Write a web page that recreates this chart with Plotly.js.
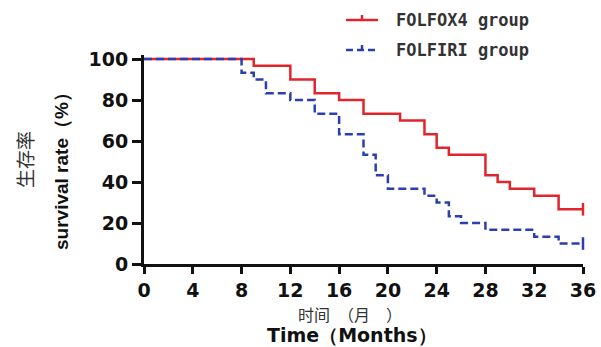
<!DOCTYPE html>
<html>
<head>
<meta charset="utf-8">
<script src="https://cdn.plot.ly/plotly-3.0.1.min.js"></script>
<style>html,body{margin:0;padding:0;background:#fff;}#chart{width:601px;height:347px;}</style>
</head>
<body>
<div id="chart"></div>
<script>
// Kaplan-Meier step data
const monthsFolfox = [0, 9, 12, 14, 16, 18, 21, 23, 24, 25, 28, 29, 30, 32, 34, 36];
const survFolfox   = [100, 96.7, 90, 83.3, 80, 73.3, 70, 63.3, 56.7, 53.3, 43.3, 40, 36.7, 33.3, 26.7, 26.7];
const monthsFolfiri = [0, 8, 9, 10, 12, 14, 16, 18, 19, 20, 23, 24, 25, 26, 28, 32, 34, 36];
const survFolfiri   = [100, 93.3, 90, 83.3, 80, 73.3, 63.3, 53.3, 43.3, 36.7, 33.3, 30, 23.3, 20, 16.7, 13.3, 10, 10];
// censored observations (end of follow-up)
const censorMonthsFolfox = [36];
const censorSurvFolfox = [26.7];
const censorMonthsFolfiri = [36];
const censorSurvFolfiri = [10];
const seriesNames = ['FOLFOX4 group', 'FOLFIRI group'];
const xTicks = [0, 4, 8, 12, 16, 20, 24, 28, 32, 36];
const yTicks = [0, 20, 40, 60, 80, 100];

const red = '#e0262c';
const blue = '#2b3fb3';
const blueDash = '8px,4px';

const traces = [
  {x: monthsFolfox, y: survFolfox, mode: 'lines', line: {shape: 'hv', color: red, width: 2.5},
   name: seriesNames[0], showlegend: false},
  {x: monthsFolfiri, y: survFolfiri, mode: 'lines', line: {shape: 'hv', color: blue, width: 2.5, dash: blueDash},
   name: seriesNames[1], showlegend: false},
  {x: censorMonthsFolfox, y: censorSurvFolfox, mode: 'markers', showlegend: false, cliponaxis: false,
   marker: {symbol: 'line-ns', size: 9, line: {color: red, width: 2.5}}},
  {x: censorMonthsFolfiri, y: censorSurvFolfiri, mode: 'markers', showlegend: false, cliponaxis: false,
   marker: {symbol: 'line-ns', size: 9, line: {color: blue, width: 2.5}}}
];

// geometry helpers (pixel -> paper) for the plot box
const W = 601, H = 347, ML = 144, MR = 18, MT = 55, MB = 83;
const PW = W - ML - MR, PH = H - MT - MB;
const px = v => (v - ML) / PW;
const py = v => (H - MB - v) / PH;

const tickFont = {family: 'DejaVu Sans, sans-serif', size: 19, color: '#111', weight: 'bold'};

// hand-made legend (Plotly's own legend would push the margins)
const legendRows = [
  {name: seriesNames[0], color: red, dash: 'solid', y: 20},
  {name: seriesNames[1], color: blue, dash: 'dash', y: 50}
];
const shapes = [];
const legendAnn = [];
legendRows.forEach(r => {
  shapes.push({type: 'line', xref: 'paper', yref: 'paper', x0: px(346), x1: px(378), y0: py(r.y), y1: py(r.y),
               line: {color: r.color, width: 2.5, dash: r.dash === 'dash' ? '7px,4px' : 'solid'}});
  shapes.push({type: 'line', xref: 'paper', yref: 'paper', x0: px(362), x1: px(362), y0: py(r.y), y1: py(r.y - 5),
               line: {color: r.color, width: 2.5}});
  legendAnn.push({xref: 'paper', yref: 'paper', x: px(394), y: py(r.y), xanchor: 'left', yanchor: 'middle',
                  text: '<b>' + r.name + '</b>', showarrow: false,
                  font: {family: 'DejaVu Sans Mono, monospace', size: 17, color: '#333'}});
});

const layout = {
  width: W, height: H,
  margin: {l: ML, r: MR, t: MT, b: MB, pad: 0},
  paper_bgcolor: '#fff', plot_bgcolor: '#fff',
  showlegend: false,
  xaxis: {
    range: [0, 36], tickvals: xTicks, ticktext: xTicks.map(String),
    showline: true, linecolor: '#111', linewidth: 3, mirror: false,
    ticks: 'outside', ticklen: 7, tickwidth: 3, tickcolor: '#111',
    showgrid: false, zeroline: false, tickfont: tickFont, tickangle: 0,
    title: {text: ''}
  },
  yaxis: {
    range: [0, 102], tickvals: yTicks, ticktext: yTicks.map(String),
    showline: true, linecolor: '#111', linewidth: 3,
    ticks: 'outside', ticklen: 9, tickwidth: 3, tickcolor: '#111',
    showgrid: false, zeroline: false, tickfont: tickFont,
    title: {text: ''}
  },
  shapes: shapes,
  annotations: legendAnn.concat([
    {xref: 'paper', yref: 'paper', x: px(24), y: py(160), xanchor: 'center', yanchor: 'middle',
     text: '生存率', showarrow: false, textangle: -90,
     font: {family: 'Noto Sans CJK SC', size: 19, color: '#333'}},
    {xref: 'paper', yref: 'paper', x: px(61), y: py(167), xanchor: 'center', yanchor: 'middle',
     text: '<b>survival rate（%）</b>', showarrow: false, textangle: -90,
     font: {family: 'Liberation Sans, Arial', size: 19, color: '#111'}},
    {xref: 'paper', yref: 'paper', x: px(350), y: py(314), xanchor: 'center', yanchor: 'middle',
     text: '时间　（月　）', showarrow: false,
     font: {family: 'Noto Sans CJK SC', size: 16, color: '#333'}},
    {xref: 'paper', yref: 'paper', x: px(352), y: py(335), xanchor: 'center', yanchor: 'middle',
     text: '<b>Time（Months）</b>', showarrow: false,
     font: {family: 'DejaVu Sans, sans-serif', size: 19, color: '#111'}}
  ])
};

Plotly.newPlot('chart', traces, layout, {staticPlot: true, displayModeBar: false});
</script>
</body>
</html>
